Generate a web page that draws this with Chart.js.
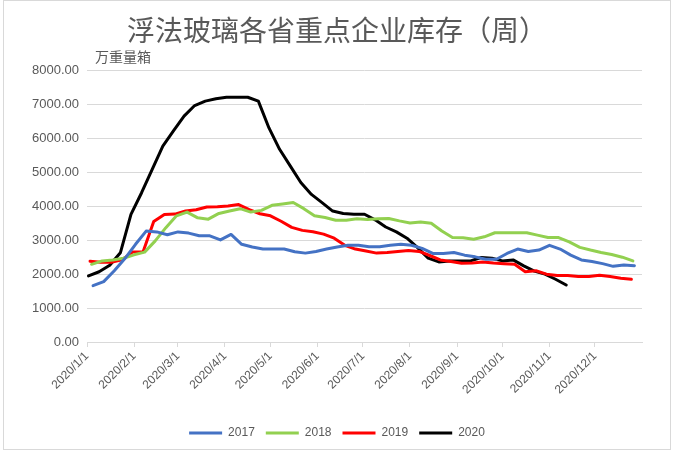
<!DOCTYPE html>
<html>
<head>
<meta charset="utf-8">
<script src="https://cdn.jsdelivr.net/npm/chart.js@4.4.0/dist/chart.umd.min.js"></script>
<style>
  html, body { margin: 0; padding: 0; background: #fff; }
</style>
</head>
<body>
<canvas id="chart" width="683" height="451"></canvas>
<script>
const chartTitle = "浮法玻璃各省重点企业库存（周）";
const unitLabel = "万重量箱";

// series names, colours and the date of the first weekly reading (plotted on 2020 calendar)
const years = ["2017", "2018", "2019", "2020"];
const colors = ["#4472C4", "#92D050", "#FF0000", "#000000"];
const firstWeek = ["2020/1/5", "2020/1/4", "2020/1/3", "2020/1/2"];

const stock2017 = [1660, 1780, 2100, 2460, 2880, 3270, 3245, 3160, 3245, 3210,
  3130, 3130, 3010, 3170, 2880, 2800, 2740, 2740, 2740, 2660,
  2620, 2670, 2740, 2800, 2850, 2850, 2810, 2810, 2850, 2880,
  2850, 2760, 2610, 2610, 2640, 2560, 2510, 2440, 2440, 2610,
  2740, 2670, 2710, 2850, 2740, 2560, 2420, 2370, 2310, 2230,
  2270, 2250];
const stock2018 = [2290, 2390, 2420, 2470, 2570, 2650, 2980, 3370, 3720, 3830,
  3660, 3620, 3790, 3860, 3930, 3830, 3880, 4030, 4070, 4110,
  3930, 3720, 3670, 3590, 3590, 3630, 3610, 3630, 3640, 3570,
  3510, 3540, 3500, 3270, 3080, 3070, 3030, 3100, 3220, 3220,
  3220, 3220, 3150, 3080, 3080, 2950, 2790, 2710, 2640, 2580,
  2500, 2390];
const stock2019 = [2380, 2350, 2350, 2420, 2650, 2660, 3550, 3760, 3770, 3860,
  3900, 3980, 3990, 4010, 4050, 3900, 3780, 3720, 3560, 3380,
  3290, 3250, 3180, 3060, 2850, 2740, 2680, 2620, 2640, 2670,
  2700, 2670, 2550, 2420, 2370, 2320, 2330, 2360, 2330, 2310,
  2290, 2070, 2100, 2000, 1960, 1960, 1930, 1930, 1970, 1930,
  1880, 1850];
const stock2020 = [1950, 2070, 2260, 2630, 3760, 4400, 5090, 5775, 6220, 6660,
  6970, 7100, 7170, 7215, 7215, 7215, 7100, 6310, 5680, 5190,
  4700, 4350, 4110, 3860, 3790, 3765, 3765, 3600, 3390, 3245,
  3060, 2780, 2470, 2360, 2390, 2390, 2390, 2490, 2470, 2390,
  2420, 2245, 2090, 2000, 1850, 1680];

const monthLabels = ["2020/1/1", "2020/2/1", "2020/3/1", "2020/4/1", "2020/5/1", "2020/6/1",
  "2020/7/1", "2020/8/1", "2020/9/1", "2020/10/1", "2020/11/1", "2020/12/1"];
const axisEnd = "2021/1/1";

const yTicks = [0, 1000, 2000, 3000, 4000, 5000, 6000, 7000, 8000];

// days since 2020/1/1
function dayOf(s) {
  const p = s.split("/").map(Number);
  return (Date.UTC(p[0], p[1] - 1, p[2]) - Date.UTC(2020, 0, 1)) / 86400000;
}

const allStock = [stock2017, stock2018, stock2019, stock2020];

const datasets = years.map((y, k) => {
  const start = dayOf(firstWeek[k]);
  return {
    label: y,
    data: allStock[k].map((v, i) => ({ x: start + 7 * i, y: v })),
    borderColor: colors[k],
    backgroundColor: colors[k],
    borderWidth: 3,
    pointRadius: 0,
    tension: 0,
    borderCapStyle: "round",
    borderJoinStyle: "round"
  };
});

const grey = "#595959";
const gridGrey = "#d9d9d9";

const extras = {
  id: "extras",
  afterDraw(chart) {
    const ctx = chart.ctx;
    ctx.save();
    ctx.fillStyle = grey;
    ctx.font = "14px 'Noto Sans CJK SC'";
    ctx.textBaseline = "middle";
    ctx.textAlign = "left";
    ctx.fillText(unitLabel, 95, 57);
    ctx.strokeStyle = gridGrey;
    ctx.lineWidth = 1;
    ctx.strokeRect(3.5, 0.5, 667, 449);
    ctx.restore();
  }
};

Chart.defaults.font.family = "'Liberation Sans', 'Noto Sans CJK SC', sans-serif";
Chart.defaults.font.size = 12;
Chart.defaults.color = grey;

new Chart(document.getElementById("chart"), {
  type: "line",
  data: { datasets: datasets },
  options: {
    responsive: false,
    animation: false,
    devicePixelRatio: 1,
    layout: { padding: { left: 4, right: 13, top: 0, bottom: 2 } },
    scales: {
      x: {
        type: "linear",
        min: 0,
        max: dayOf(axisEnd),
        afterBuildTicks: (s) => { s.ticks = monthLabels.map(l => ({ value: dayOf(l) })); },
        afterFit: (s) => { s.height = 74; },
        ticks: {
          autoSkip: false,
          maxRotation: 45,
          minRotation: 45,
          padding: 2,
          color: grey,
          callback: (v, i) => monthLabels[i]
        },
        grid: { display: true, drawOnChartArea: false, drawTicks: true, tickLength: 5, color: gridGrey },
        border: { display: true, color: gridGrey }
      },
      y: {
        min: 0,
        max: 8000,
        afterBuildTicks: (s) => { s.ticks = yTicks.map(v => ({ value: v })); },
        afterFit: (s) => { s.width = 83; },
        ticks: { padding: 8, color: grey, font: { size: 13 }, callback: (v) => v.toFixed(2) },
        grid: { color: gridGrey, drawTicks: false },
        border: { display: false }
      },
      y2: {
        position: "right",
        afterFit: (s) => { s.width = 28; },
        ticks: { display: false },
        grid: { display: false },
        border: { display: false }
      }
    },
    plugins: {
      title: {
        display: true,
        text: chartTitle,
        color: grey,
        font: { size: 28, weight: "normal", family: "'Noto Sans CJK SC', sans-serif" },
        padding: { top: 14, bottom: 23 }
      },
      legend: {
        position: "bottom",
        labels: {
          boxWidth: 33,
          boxHeight: 3,
          padding: 11,
          color: grey,
          generateLabels: (chart) => Chart.defaults.plugins.legend.labels.generateLabels(chart)
            .map(it => Object.assign(it, { lineWidth: 0, fillStyle: it.strokeStyle }))
        }
      },
      tooltip: { enabled: false }
    }
  },
  plugins: [extras]
});
</script>
</body>
</html>
